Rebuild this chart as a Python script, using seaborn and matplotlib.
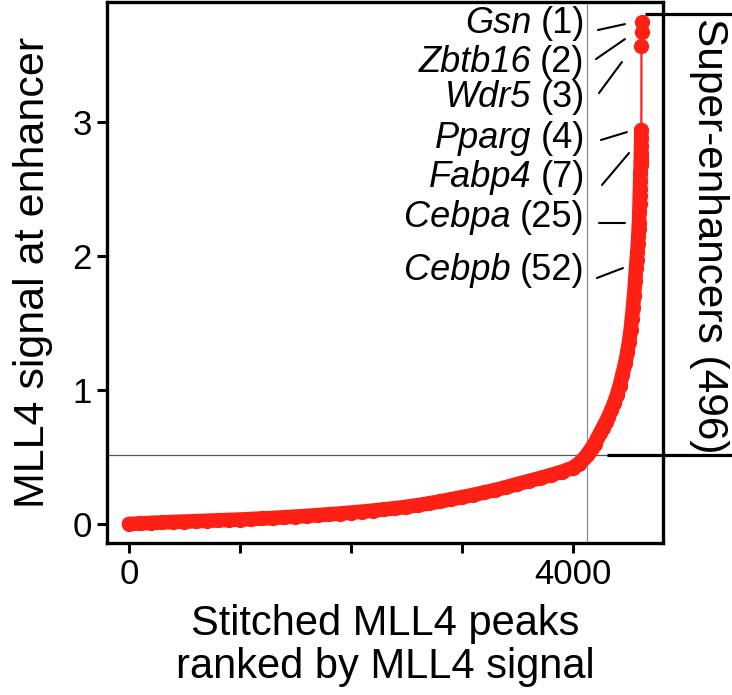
import matplotlib
matplotlib.use("Agg")
import matplotlib.pyplot as plt
import seaborn as sns
import pandas as pd

# ---------------- data ----------------
n_peaks = 4620
se_count = 496
cutoff_signal = 0.515

# non-super-enhancer peaks: position along the x axis (stitched peak rank) and signal
bg_rank = [0, 100, 200, 300, 400, 500, 600, 700, 800, 900,
           1000, 1100, 1200, 1300, 1400, 1500, 1600, 1700, 1800, 1900,
           2000, 2100, 2200, 2300, 2400, 2500, 2600, 2700, 2800, 2900,
           3000, 3100, 3200, 3300, 3400, 3500, 3600, 3700, 3800, 3900,
           4000, 4050, 4100]
bg_signal = [0.000, 0.004, 0.008, 0.012, 0.015, 0.018, 0.021, 0.024, 0.027, 0.030,
             0.033, 0.037, 0.041, 0.045, 0.050, 0.055, 0.060, 0.066, 0.072, 0.078,
             0.085, 0.092, 0.100, 0.109, 0.118, 0.128, 0.140, 0.153, 0.168, 0.184,
             0.200, 0.217, 0.235, 0.254, 0.275, 0.298, 0.320, 0.342, 0.365, 0.390,
             0.420, 0.450, 0.490]

# super-enhancers: rank from the top (1 = strongest) and signal
se_rank = [1, 2, 3, 4, 5, 6, 7, 8, 9, 10, 12, 14, 16, 18, 20, 22, 25, 28, 31, 35,
           40, 46, 52, 60, 70, 80, 90, 100, 115, 130, 150, 175, 200, 225, 250,
           275, 300, 325, 350, 375, 400, 425, 450, 475, 496]
se_signal = [3.75, 3.67, 3.57, 2.94, 2.88, 2.82, 2.77, 2.74, 2.71, 2.68, 2.62, 2.56,
             2.50, 2.45, 2.39, 2.33, 2.25, 2.20, 2.15, 2.09, 2.03, 1.97, 1.91, 1.81,
             1.70, 1.61, 1.53, 1.45, 1.36, 1.28, 1.20, 1.11, 1.03, 0.96, 0.90, 0.85,
             0.80, 0.76, 0.72, 0.68, 0.64, 0.60, 0.57, 0.54, 0.515]

genes = ["Gsn", "Zbtb16", "Wdr5", "Pparg", "Fabp4", "Cebpa", "Cebpb"]
gene_ranks = [1, 2, 3, 4, 7, 25, 52]

x_ticks = [0, 1000, 2000, 3000, 4000]
x_tick_labels = ["0", "", "", "", "4000"]
y_ticks = [0, 1, 2, 3]
y_tick_labels = ["0", "1", "2", "3"]

# layout of gene labels (text baselines and leader segments, data units)
label_baseline = [3.664, 3.373, 3.112, 2.806, 2.515, 2.216, 1.821]
leader_x0 = [4225, 4207, 4234, 4252, 4261, 4234, 4216]
leader_y0 = [3.687, 3.470, 3.216, 2.866, 2.530, 2.246, 1.836]
leader_x1 = [4468, 4468, 4441, 4486, 4505, 4468, 4450]
leader_y1 = [3.731, 3.619, 3.448, 2.925, 2.769, 2.246, 1.910]

# ---------------- build table ----------------
se_x = [n_peaks - r for r in se_rank]
df = pd.DataFrame({
    "rank": bg_rank + se_x[::-1],
    "signal": bg_signal + se_signal[::-1],
    "top3": [False] * len(bg_rank) + [r <= 3 for r in se_rank[::-1]],
})
cutoff_x = n_peaks - se_count

# ---------------- style ----------------
sns.set_theme(style="white")
plt.rcParams["font.family"] = ["Liberation Sans", "DejaVu Sans"]
plt.rcParams["text.color"] = "black"
plt.rcParams["axes.labelcolor"] = "black"

red = "#fe2015"

fig = plt.figure(figsize=(7.32, 6.95), dpi=100)
ax = fig.add_axes([107 / 732, 152 / 695, 556 / 732, 541 / 695])

# thick band through the dense part of the curve
sns.lineplot(data=df[~df["top3"]], x="rank", y="signal", ax=ax, color=red,
             linewidth=10.5, zorder=3, sort=True, estimator=None,
             solid_capstyle="round", solid_joinstyle="round")
# thin connecting line and point markers for every peak
sns.lineplot(data=df, x="rank", y="signal", ax=ax, color=red, linewidth=1.6,
             marker="o", markersize=11, markeredgewidth=0, zorder=3,
             sort=True, estimator=None)

ax.set_xlim(-198, 4811)
ax.set_ylim(-0.142, 3.896)

# reference lines
ax.axvline(cutoff_x, color="#8c8c8c", linewidth=0.9, zorder=1)
ax.axhline(cutoff_signal, color="#555555", linewidth=0.9, zorder=1)

# bracket lines outside the axes
ax.plot([4306, 5600], [cutoff_signal, cutoff_signal], color="black", lw=2.3,
        clip_on=False, zorder=4, solid_capstyle="butt")
ax.plot([4649, 5600], [3.806, 3.806], color="black", lw=2.3,
        clip_on=False, zorder=4, solid_capstyle="butt")

fig.text(698 / 732, 1 - 236 / 695, f"Super-enhancers ({se_count})",
         rotation=-90, rotation_mode="anchor", ha="center", va="baseline",
         fontsize=30.5, color="black")

# gene labels: italic gene name followed by upright rank
fig.canvas.draw()
renderer = fig.canvas.get_renderer()
for g, r, yb, x0, y0, x1, y1 in zip(genes, gene_ranks, label_baseline,
                                    leader_x0, leader_y0, leader_x1, leader_y1):
    t_rank = ax.annotate(f"({r})", xy=(cutoff_x, yb), xytext=(-1.5, 0),
                         textcoords="offset points", ha="right", va="baseline",
                         fontsize=26, color="black")
    w_pt = t_rank.get_window_extent(renderer).width * 72 / fig.dpi
    ax.annotate(g, xy=(cutoff_x, yb), xytext=(-1.5 - w_pt - 6.5, 0),
                textcoords="offset points", ha="right", va="baseline",
                fontsize=26, style="italic", color="black")
    ax.plot([x0, x1], [y0, y1], color="black", lw=1.5, zorder=2)

# axes styling
ax.set_xticks(x_ticks)
ax.set_xticklabels(x_tick_labels)
ax.set_yticks(y_ticks)
ax.set_yticklabels(y_tick_labels)
ax.tick_params(axis="both", which="major", direction="out", length=7, width=2.2,
               labelsize=25, color="black", labelcolor="black",
               bottom=True, left=True, top=False, right=False, pad=4)
for s in ax.spines.values():
    s.set_linewidth(2.4)
    s.set_color("black")

ax.set_xlabel("Stitched MLL4 peaks\nranked by MLL4 signal", fontsize=30,
              labelpad=9, linespacing=1.12, color="black")
ax.set_ylabel("MLL4 signal at enhancer", fontsize=31, labelpad=14, color="black")

fig.savefig("out.png", dpi=100)
